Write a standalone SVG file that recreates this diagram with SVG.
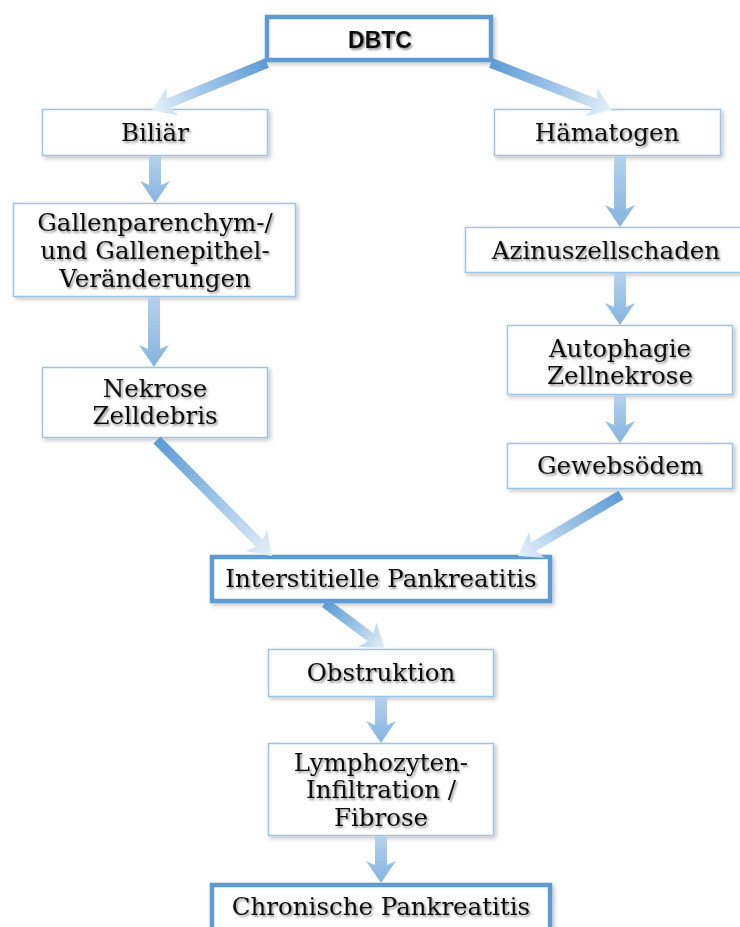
<svg xmlns="http://www.w3.org/2000/svg" width="740" height="927" viewBox="0 0 740 927">
<defs>
<filter id="bs" x="-10%" y="-20%" width="130%" height="150%"><feDropShadow dx="2" dy="2" stdDeviation="2" flood-color="#000" flood-opacity="0.25"/></filter>
<filter id="ts" x="-10%" y="-30%" width="130%" height="170%"><feDropShadow dx="1.5" dy="1.8" stdDeviation="1.2" flood-color="#000" flood-opacity="0.45"/></filter>
<linearGradient id="gd" x1="0" y1="0" x2="1" y2="0"><stop offset="0" stop-color="#5b9bd5"/><stop offset="0.55" stop-color="#a3c7e8"/><stop offset="1" stop-color="#e6f0f9"/></linearGradient>
<linearGradient id="gv" x1="0" y1="0" x2="1" y2="0"><stop offset="0" stop-color="#b4d2ed"/><stop offset="1" stop-color="#86b4df"/></linearGradient>
</defs>
<style>
.thin{fill:#fff;stroke:#9dc3e6;stroke-width:1.5;filter:url(#bs)}
.thick{fill:#fff;stroke:#5e9bd3;stroke-width:4.5;filter:url(#bs)}
.t{font-family:"DejaVu Serif","Liberation Serif",serif;font-size:24.5px;fill:#111;text-anchor:middle;filter:url(#ts)}
.h{font-family:"Liberation Sans",Arial,sans-serif;font-size:23px;font-weight:bold;fill:#111;text-anchor:middle;filter:url(#ts)}
.ad{fill:url(#gd)}
.av{fill:url(#gv)}
</style>
<rect width="740" height="927" fill="#fff"/>
<g id="n-dbtc"><rect class="thick" x="267" y="17" width="224" height="43"/><text class="h" x="380" y="48">DBTC</text></g>
<g id="n-biliaer"><rect class="thin" x="42.5" y="109.5" width="225" height="46"/><text class="t" x="155" y="141">Biliär</text></g>
<g id="n-haematogen"><rect class="thin" x="494.5" y="109.5" width="226" height="46"/><text class="t" x="607" y="141">Hämatogen</text></g>
<g id="n-gallen"><rect class="thin" x="13.5" y="203.5" width="282" height="93"/><text class="t" x="155" y="231">Gallenparenchym-/</text><text class="t" x="155" y="259">und Gallenepithel-</text><text class="t" x="155" y="287">Veränderungen</text></g>
<g id="n-nekrose"><rect class="thin" x="42.5" y="367.5" width="225" height="70"/><text class="t" x="155" y="397">Nekrose</text><text class="t" x="155" y="424">Zelldebris</text></g>
<g id="n-azinus"><rect class="thin" x="465.5" y="227.5" width="282" height="45"/><text class="t" x="606" y="259">Azinuszellschaden</text></g>
<g id="n-autophagie"><rect class="thin" x="507.5" y="325.5" width="225" height="69"/><text class="t" x="620" y="357">Autophagie</text><text class="t" x="620" y="384">Zellnekrose</text></g>
<g id="n-gewebs"><rect class="thin" x="507.5" y="443.5" width="225" height="45"/><text class="t" x="620" y="474">Gewebsödem</text></g>
<g id="n-interstitielle"><rect class="thick" x="212" y="557" width="338" height="44"/><text class="t" x="381" y="587">Interstitielle Pankreatitis</text></g>
<g id="n-obstruktion"><rect class="thin" x="268.5" y="649.5" width="225" height="47"/><text class="t" x="381" y="681">Obstruktion</text></g>
<g id="n-lymph"><rect class="thin" x="268.5" y="743.5" width="225" height="92"/><text class="t" x="381" y="771">Lymphozyten-</text><text class="t" x="381" y="798">Infiltration /</text><text class="t" x="381" y="826">Fibrose</text></g>
<g id="n-chronisch"><rect class="thick" x="212" y="885" width="338" height="60"/><text class="t" x="381" y="915">Chronische Pankreatitis</text></g>
<g id="connectors">
<path class="ad" transform="translate(267,63) rotate(157.77)" d="M0,-5 H106.2 L102.2,-15 L124.2,0 L102.2,15 L106.2,5 H0 Z"/>
<path class="ad" transform="translate(491,63) rotate(21.22)" d="M0,-5 H111.8 L107.8,-15 L129.8,0 L107.8,15 L111.8,5 H0 Z"/>
<path class="ad" transform="translate(157,440) rotate(45.25)" d="M0,-5 H145.3 L141.3,-15 L163.3,0 L141.3,15 L145.3,5 H0 Z"/>
<path class="ad" transform="translate(621,495) rotate(149.37)" d="M0,-5 H101.7 L97.7,-15 L119.7,0 L97.7,15 L101.7,5 H0 Z"/>
<path class="ad" transform="translate(325,603) rotate(36.87)" d="M0,-5 H57 L53,-15 L75,0 L53,15 L57,5 H0 Z"/>
<path class="av" transform="translate(155,156) rotate(90)" d="M0,-6 H29 L25,-15 L47,0 L25,15 L29,6 H0 Z"/>
<path class="av" transform="translate(154,297) rotate(90)" d="M0,-6 H52 L48,-15 L70,0 L48,15 L52,6 H0 Z"/>
<path class="av" transform="translate(620,156) rotate(90)" d="M0,-6 H53 L49,-15 L71,0 L49,15 L53,6 H0 Z"/>
<path class="av" transform="translate(620,273) rotate(90)" d="M0,-6 H34 L30,-15 L52,0 L30,15 L34,6 H0 Z"/>
<path class="av" transform="translate(620,395) rotate(90)" d="M0,-6 H30 L26,-15 L48,0 L26,15 L30,6 H0 Z"/>
<path class="av" transform="translate(381,697) rotate(90)" d="M0,-6 H28 L24,-15 L46,0 L24,15 L28,6 H0 Z"/>
<path class="av" transform="translate(381,836) rotate(90)" d="M0,-6 H29 L25,-15 L47,0 L25,15 L29,6 H0 Z"/>
</g>
</svg>
